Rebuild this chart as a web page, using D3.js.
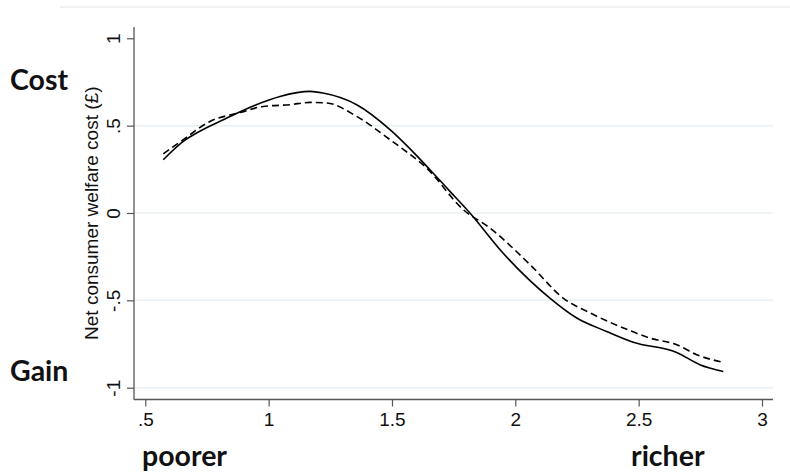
<!DOCTYPE html>
<html>
<head>
<meta charset="utf-8">
<script src="https://cdn.jsdelivr.net/npm/d3@7"></script>
<style>
  body { margin: 0; background: #fff; }
  svg { display: block; }
</style>
</head>
<body>
<svg id="chart" width="790" height="473"></svg>
<script>
// Household income (x) vs net consumer welfare cost; two scenarios
const incomeSolid = [0.573, 0.654, 0.708, 0.816, 0.95, 1.046, 1.168, 1.22, 1.357, 1.492, 1.55, 1.654, 1.735, 1.816, 1.95, 2.14, 2.249, 2.37, 2.478, 2.654, 2.748, 2.843];
const costSolid   = [0.305, 0.41, 0.458, 0.534, 0.62, 0.667, 0.696, 0.687, 0.62, 0.477, 0.40, 0.248, 0.124, 0.0, -0.229, -0.487, -0.601, -0.678, -0.74, -0.798, -0.868, -0.907];

const incomeDashed = [0.573, 0.654, 0.762, 0.884, 0.978, 1.087, 1.168, 1.235, 1.357, 1.492, 1.55, 1.64, 1.789, 1.897, 2.06, 2.194, 2.303, 2.438, 2.546, 2.654, 2.735, 2.843];
const costDashed   = [0.339, 0.42, 0.524, 0.575, 0.61, 0.62, 0.633, 0.63, 0.553, 0.42, 0.36, 0.258, 0.019, -0.086, -0.296, -0.487, -0.572, -0.658, -0.716, -0.754, -0.811, -0.855];

const xTicks = [0.5, 1, 1.5, 2, 2.5, 3];
const yTicks = [-1, -0.5, 0, 0.5, 1];
const yGrid  = [-1, -0.5, 0, 0.5];
const fmt = v => (v === 0 ? "0" : String(v).replace(/^(-?)0\./, "$1."));

const svg = d3.select("#chart");

const x = d3.scaleLinear().domain([0.5, 3]).range([145.3, 762]);
const y = d3.scaleLinear().domain([-1, 1]).range([387.7, 38.3]);

const plotLeft = 134, plotRight = 773, plotTop = 27, plotBottom = 399.5;
const tickFont = "Liberation Sans, Arial, sans-serif";

// faint rule at the top of the figure
svg.append("line")
  .attr("x1", 60).attr("x2", 790).attr("y1", 7).attr("y2", 7)
  .attr("stroke", "#ececec").attr("stroke-width", 1.5);

// horizontal grid
svg.append("g").selectAll("line").data(yGrid).join("line")
  .attr("x1", plotLeft).attr("x2", plotRight)
  .attr("y1", d => y(d)).attr("y2", d => y(d))
  .attr("stroke", "#e8eff3").attr("stroke-width", 1.5);

// y axis
const yAxis = svg.append("g")
  .attr("transform", `translate(${plotLeft},0)`)
  .call(d3.axisLeft(y).tickValues(yTicks).tickFormat(fmt).tickSize(7).tickSizeOuter(0));
yAxis.select(".domain").attr("d", `M0,${plotTop}V${plotBottom}`).attr("stroke", "#555").attr("stroke-width", 1.3);
yAxis.selectAll(".tick line").attr("stroke", "#555").attr("stroke-width", 1.2);
yAxis.selectAll(".tick text")
  .style("font-family", tickFont)
  .style("font-size", "19px").attr("fill", "#111")
  .attr("transform", "rotate(-90)")
  .attr("x", 0).attr("y", -14)
  .attr("dy", 0)
  .attr("text-anchor", "middle");

// x axis
const xAxis = svg.append("g")
  .attr("transform", `translate(0,${plotBottom})`)
  .call(d3.axisBottom(x).tickValues(xTicks).tickFormat(fmt).tickSize(7).tickSizeOuter(0));
xAxis.select(".domain").attr("d", `M${plotLeft},0H${plotRight}`).attr("stroke", "#555").attr("stroke-width", 1.3);
xAxis.selectAll(".tick line").attr("stroke", "#555").attr("stroke-width", 1.2);
xAxis.selectAll(".tick text")
  .style("font-family", tickFont)
  .style("font-size", "19px").attr("fill", "#111")
  .attr("y", 13.5).attr("dy", "0.71em");

// y axis title
svg.append("text")
  .attr("transform", `translate(98,${(plotTop + plotBottom) / 2}) rotate(-90)`)
  .attr("text-anchor", "middle")
  .style("font-family", tickFont)
  .style("font-size", "19px").attr("fill", "#111")
  .text("Net consumer welfare cost (£)");

// series
const line = d3.line().x(d => x(d[0])).y(d => y(d[1])).curve(d3.curveMonotoneX);
svg.append("path")
  .datum(d3.zip(incomeSolid, costSolid))
  .attr("d", line).attr("fill", "none")
  .attr("stroke", "#000").attr("stroke-width", 1.6);
svg.append("path")
  .datum(d3.zip(incomeDashed, costDashed))
  .attr("d", line).attr("fill", "none")
  .attr("stroke", "#000").attr("stroke-width", 1.6)
  .attr("stroke-dasharray", "7,4");

// annotations
const ann = [
  { t: "Cost", x: 10, y: 90 },
  { t: "Gain", x: 10, y: 381 },
  { t: "poorer", x: 142, y: 466 },
  { t: "richer", x: 631, y: 466 }
];
svg.append("g").selectAll("text").data(ann).join("text")
  .attr("x", d => d.x).attr("y", d => d.y)
  .style("font-family", "Lato, 'Open Sans', sans-serif")
  .style("font-weight", "bold")
  .style("font-size", "28.5px").attr("fill", "#111")
  .text(d => d.t);
</script>
</body>
</html>
